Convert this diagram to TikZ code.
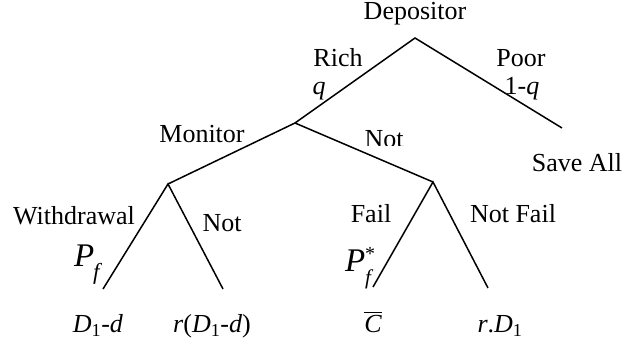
\documentclass[tikz,border=0pt]{standalone}
\usepackage{amsmath}
\usepackage{fontspec}
\setmainfont{Liberation Serif}
\begin{document}
\begin{tikzpicture}[x=1pt,y=-1pt,
  lbl/.style={anchor=base,inner sep=0pt,outer sep=0pt,font=\fontsize{26}{30}\selectfont},
  plbl/.style={anchor=base west,inner sep=0pt,outer sep=0pt,font=\fontsize{33}{36}\selectfont},
  branch/.style={line width=1.5pt}]
\useasboundingbox (0,0) rectangle (624,347);
% vertices
\coordinate (root) at (415,38);
\coordinate (rich) at (295,123);
\coordinate (poor) at (562,128);
\coordinate (mon) at (168,184);
\coordinate (notm) at (433,182);
\coordinate (wd) at (103,289);
\coordinate (nwd) at (223,289);
\coordinate (fail) at (373,287);
\coordinate (nfail) at (488,288);
% branches
\draw[branch] (rich) -- (root) -- (poor);
\draw[branch] (mon) -- (rich) -- (notm);
\draw[branch] (wd) -- (mon) -- (nwd);
\draw[branch] (fail) -- (notm) -- (nfail);
% labels
\node[lbl] (tdep) at (415,20) {Depositor};
\node[lbl] (trich) at (338,67) {Rich};
\node[lbl] (tq) at (319,95) {\textit{q}};
\node[lbl] (tpoor) at (521,67) {Poor};
\node[lbl] (t1q) at (522,95) {1-\textit{q}};
\node[lbl] (tmon) at (202,143) {Monitor};
\begin{scope}
  \clip (340,115) rectangle (430,146);
  \node[lbl] (tnot) at (384,148) {Not};
\end{scope}
\node[lbl] (tsave) at (577,172) {Save All};
\node[lbl] (twd) at (74,225) {Withdrawal};
\node[lbl] (tnwd) at (222,232) {Not};
\node[lbl] (tfail) at (371,223) {Fail};
\node[lbl] (tnfail) at (513,223) {Not Fail};
\node[plbl] (tpf) at (74,267) {\textit{P}\kern-1pt\raisebox{-13pt}{\fontsize{23}{23}\selectfont\textit{f}}};
\node[plbl] (tpfs) at (345,272) {\textit{P}\rlap{\raisebox{11pt}{\fontsize{20}{20}\selectfont *}}\raisebox{-13pt}{\fontsize{21}{21}\selectfont\textit{f}}};
\node[lbl] (tl1) at (98,333) {\textit{D}$_{\text{1}}$-\textit{d}};
\node[lbl] (tl2) at (212,333) {\textit{r}(\textit{D}$_{\text{1}}$-\textit{d})};
\node[lbl] (tl3) at (373,333) {$\overline{\textit{C}}$};
\node[lbl] (tl4) at (500,333) {\textit{r}.\textit{D}$_{\text{1}}$};
\end{tikzpicture}
\end{document}
